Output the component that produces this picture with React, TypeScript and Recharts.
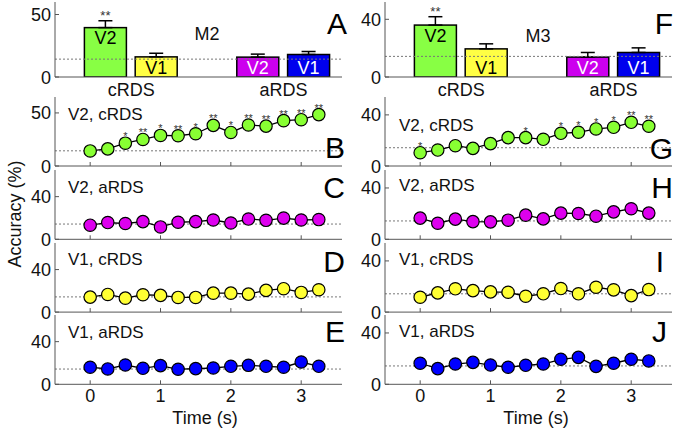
import React from 'react';
import { BarChart, Bar, ErrorBar, LineChart, Line, XAxis, YAxis, ReferenceLine } from 'recharts';

const FONT = '"Liberation Sans", Arial, sans-serif';
const AXIS = '#555';
const INK = '#111';
const CHANCE = 14.3;

// time course x values (s)
const TIME = [0, 0.25, 0.5, 0.75, 1, 1.25, 1.5, 1.75, 2, 2.25, 2.5, 2.75, 3, 3.25];
const TIME_TICKS = [0, 1, 2, 3];

// bar panels
const GROUPS = ['cRDS', 'aRDS'];
const AREAS = ['V2', 'V1', 'V2', 'V1'];
const BAR_COLORS = ['#88ff44', '#ffff44', '#cc00ee', '#0000ee'];
const BAR_TEXT = ['#000', '#000', '#fff', '#fff'];

const M2_BARS = [39.5, 16.1, 15.9, 18.0];
const M2_ERRS = [5.5, 2.9, 2.4, 2.4];
const M2_BAR_SIG = ['**', '', '', ''];
const M3_BARS = [36.0, 19.5, 13.8, 17.0];
const M3_ERRS = [5.8, 3.5, 3.2, 3.2];
const M3_BAR_SIG = ['**', '', '', ''];

// M2 time courses
const M2_V2_CRDS = [14.2, 16.1, 21.5, 25.0, 28.8, 28.5, 30.4, 38.3, 31.6, 38.6, 37.6, 42.7, 43.6, 48.4];
const M2_V2_CRDS_SIG = ['', '', '*', '**', '*', '**', '*', '**', '*', '**', '**', '**', '**', '**'];
const M2_V2_ARDS = [13.2, 15.7, 14.8, 16.6, 11.6, 16.0, 16.6, 18.1, 15.3, 19.0, 17.8, 19.9, 18.1, 18.5];
const M2_V1_CRDS = [14.1, 16.6, 13.1, 16.3, 15.7, 13.8, 13.8, 17.8, 17.8, 16.9, 20.4, 22.0, 18.5, 21.0];
const M2_V1_ARDS = [16.0, 14.4, 18.1, 15.0, 17.5, 14.1, 14.7, 15.3, 16.9, 17.8, 16.9, 16.0, 20.9, 16.9];

// M3 time courses
const M3_V2_CRDS = [10.4, 12.5, 15.9, 13.8, 17.5, 22.2, 22.2, 20.9, 25.6, 26.4, 29.0, 30.3, 34.2, 31.1];
const M3_V2_CRDS_SIG = ['*', '', '', '', '', '', '*', '', '*', '*', '*', '*', '**', '**'];
const M3_V2_ARDS = [16.5, 12.5, 15.7, 13.8, 13.6, 14.9, 18.8, 15.9, 20.4, 20.1, 18.0, 21.4, 23.8, 20.4];
const M3_V1_CRDS = [11.6, 15.0, 18.2, 16.8, 15.8, 15.5, 12.4, 14.3, 18.4, 14.3, 19.4, 17.4, 12.9, 17.6];
const M3_V1_ARDS = [16.4, 12.2, 15.8, 17.1, 15.0, 13.3, 14.8, 15.8, 19.5, 21.0, 14.0, 16.4, 19.5, 18.2];

const GREEN = '#88ff33';
const MAGENTA = '#dd00ee';
const YELLOW = '#ffff33';
const BLUE = '#0000ff';

const COLS = [
  { left: 0, width: 345, right: 3 },
  { left: 330, width: 346, right: 4 },
];
const ROWS = [
  { top: 97, bottom: 166 },
  { top: 170, bottom: 239.3 },
  { top: 242.5, bottom: 311.6 },
  { top: 315, bottom: 384.3 },
];

const YTick = (props: any) => {
  const { x, y, payload } = props;
  return (
    <g>
      <line x1={x} x2={x + 4} y1={y} y2={y} stroke={AXIS} />
      <text x={x - 4} y={y + 6.5} textAnchor="end" fontSize={18} fill={INK} fontFamily={FONT}>
        {payload.value}
      </text>
    </g>
  );
};

const makeTimeTick = (showLabel: boolean) => (props: any) => {
  const { x, y, payload } = props;
  return (
    <g>
      <line x1={x} x2={x} y1={y} y2={y - 4} stroke={AXIS} />
      {showLabel && (
        <text x={x} y={y + 18} textAnchor="middle" fontSize={18} fill={INK} fontFamily={FONT}>
          {payload.value}
        </text>
      )}
    </g>
  );
};

const GroupTick = (props: any) => {
  const { x, y, index } = props;
  return (
    <text x={x} y={y + 19} textAnchor="middle" fontSize={18} fill={INK} fontFamily={FONT}>
      {GROUPS[index]}
    </text>
  );
};

const BarShape = (props: any) => {
  const { x, y, width, height, payload, index } = props;
  const ppu = height / payload.v;
  const cy = height > 35 ? y + 10 : y + height - 10;
  const errTop = y - payload.err[1] * ppu;
  return (
    <g>
      <rect x={x} y={y} width={width} height={height} fill={BAR_COLORS[index]} stroke="#000" strokeWidth={1.5} />
      <text x={x + width / 2} y={cy + 6.5} textAnchor="middle" fontSize={18} fill={BAR_TEXT[index]} fontFamily={FONT}>
        {payload.area}
      </text>
      {payload.sig ? (
        <text x={x + width / 2} y={errTop - 1} textAnchor="middle" fontSize={13} fill="#333" fontFamily={FONT}>
          {payload.sig}
        </text>
      ) : null}
    </g>
  );
};

function BarPanel({ values, errs, sig, ymax, yticks, col }: any) {
  const data = values.map((v: number, i: number) => ({
    pos: Math.floor(i / 2) * 3 + (i % 2) + 1,
    v,
    err: [0, errs[i]],
    area: AREAS[i],
    sig: sig[i],
  }));
  const c = COLS[col];
  return (
    <div style={{ position: 'absolute', left: c.left, top: 0 }}>
      <BarChart width={c.width} height={107} data={data} margin={{ top: 2, right: c.right, bottom: 0, left: 0 }}>
        <XAxis
          type="number"
          dataKey="pos"
          domain={[0, 5.65]}
          ticks={GROUPS.map((_, g) => g * 3 + 1.5)}
          interval={0}
          height={30}
          tickSize={0}
          tickMargin={0}
          tickLine={false}
          axisLine={{ stroke: AXIS }}
          tick={GroupTick}
          allowDataOverflow
        />
        <YAxis
          type="number"
          domain={[0, ymax]}
          ticks={yticks}
          interval={0}
          width={55}
          tickSize={0}
          tickMargin={0}
          tickLine={false}
          axisLine={{ stroke: AXIS }}
          tick={YTick}
          allowDataOverflow
        />
        <Bar dataKey="v" barSize={42} shape={BarShape} isAnimationActive={false}>
          <ErrorBar dataKey="err" width={7} stroke="#000" strokeWidth={1.5} direction="y" />
        </Bar>
        <ReferenceLine y={CHANCE} stroke="#777" strokeDasharray="2 2" />
      </BarChart>
    </div>
  );
}

const makeDot = (color: string) => (props: any) => {
  const { cx, cy, payload, index } = props;
  return (
    <g key={`dot-${index}`}>
      <circle cx={cx} cy={cy} r={6.2} fill={color} stroke="#000" strokeWidth={1.2} />
      {payload.sig ? (
        <text x={cx} y={cy - 3} textAnchor="middle" fontSize={11} fill="#333" fontFamily={FONT}>
          {payload.sig}
        </text>
      ) : null}
    </g>
  );
};

function LinePanel({ values, sig, color, ymax, yticks, col, row, showX }: any) {
  const data = TIME.map((t, i) => ({ t, v: values[i], sig: sig ? sig[i] : '' }));
  const c = COLS[col];
  const r = ROWS[row];
  const pad = 20;
  return (
    <div style={{ position: 'absolute', left: c.left, top: r.top - pad }}>
      <LineChart
        width={c.width}
        height={pad + (r.bottom - r.top) + 30}
        data={data}
        margin={{ top: pad, right: c.right, bottom: 0, left: 0 }}
      >
        <XAxis
          type="number"
          dataKey="t"
          domain={[-0.5, 3.58]}
          ticks={TIME_TICKS}
          interval={0}
          height={30}
          tickSize={0}
          tickMargin={0}
          tickLine={false}
          axisLine={{ stroke: AXIS }}
          tick={makeTimeTick(showX)}
          allowDataOverflow
        />
        <YAxis
          type="number"
          domain={[0, ymax]}
          ticks={yticks}
          interval={0}
          width={55}
          tickSize={0}
          tickMargin={0}
          tickLine={false}
          axisLine={{ stroke: AXIS }}
          tick={YTick}
          allowDataOverflow
        />
        <ReferenceLine y={CHANCE} stroke="#777" strokeDasharray="2 2" />
        <Line
          dataKey="v"
          stroke="#000"
          strokeWidth={1.3}
          dot={makeDot(color)}
          activeDot={false}
          isAnimationActive={false}
        />
      </LineChart>
    </div>
  );
}

const LETTERS = [
  { t: 'A', x: 347, y: 33.5 },
  { t: 'B', x: 345, y: 158 },
  { t: 'C', x: 345, y: 198 },
  { t: 'D', x: 345, y: 272 },
  { t: 'E', x: 345, y: 342 },
  { t: 'F', x: 673, y: 33.5 },
  { t: 'G', x: 673, y: 159 },
  { t: 'H', x: 673, y: 198 },
  { t: 'I', x: 664, y: 272 },
  { t: 'J', x: 667, y: 342 },
];

const TITLES = [
  { t: 'V2, cRDS', x: 68, y: 120 },
  { t: 'V2, aRDS', x: 68, y: 193 },
  { t: 'V1, cRDS', x: 68, y: 265 },
  { t: 'V1, aRDS', x: 68, y: 338 },
  { t: 'V2, cRDS', x: 399, y: 131 },
  { t: 'V2, aRDS', x: 399, y: 191 },
  { t: 'V1, cRDS', x: 399, y: 265 },
  { t: 'V1, aRDS', x: 399, y: 337 },
];

export default function App() {
  return (
    <div
      style={{
        position: 'absolute',
        left: 0,
        top: 0,
        width: 676,
        height: 435,
        background: '#fff',
        overflow: 'hidden',
        fontFamily: FONT,
      }}
    >
      <BarPanel values={M2_BARS} errs={M2_ERRS} sig={M2_BAR_SIG} ymax={60} yticks={[0, 50]} col={0} />
      <BarPanel values={M3_BARS} errs={M3_ERRS} sig={M3_BAR_SIG} ymax={52} yticks={[0, 40]} col={1} />

      <LinePanel values={M2_V2_CRDS} sig={M2_V2_CRDS_SIG} color={GREEN} ymax={65} yticks={[0, 50]} col={0} row={0} />
      <LinePanel values={M2_V2_ARDS} color={MAGENTA} ymax={65} yticks={[0, 40]} col={0} row={1} />
      <LinePanel values={M2_V1_CRDS} color={YELLOW} ymax={65} yticks={[0, 40]} col={0} row={2} />
      <LinePanel values={M2_V1_ARDS} color={BLUE} ymax={65} yticks={[0, 40]} col={0} row={3} showX />

      <LinePanel values={M3_V2_CRDS} sig={M3_V2_CRDS_SIG} color={GREEN} ymax={54} yticks={[0, 40]} col={1} row={0} />
      <LinePanel values={M3_V2_ARDS} color={MAGENTA} ymax={54} yticks={[0, 40]} col={1} row={1} />
      <LinePanel values={M3_V1_CRDS} color={YELLOW} ymax={54} yticks={[0, 40]} col={1} row={2} />
      <LinePanel values={M3_V1_ARDS} color={BLUE} ymax={54} yticks={[0, 40]} col={1} row={3} showX />

      <svg width={676} height={435} style={{ position: 'absolute', left: 0, top: 0, pointerEvents: 'none' }}>
        <text x={207} y={40} textAnchor="middle" fontSize={18} fill={INK} fontFamily={FONT}>M2</text>
        <text x={538} y={41.5} textAnchor="middle" fontSize={18} fill={INK} fontFamily={FONT}>M3</text>
        {TITLES.map((d, i) => (
          <text key={`t${i}`} x={d.x} y={d.y} fontSize={17} fill={INK} fontFamily={FONT}>{d.t}</text>
        ))}
        {LETTERS.map((d) => (
          <text key={d.t} x={d.x} y={d.y} textAnchor="end" fontSize={30} fill="#000" fontFamily={FONT}>{d.t}</text>
        ))}
        <text x={205} y={424} textAnchor="middle" fontSize={18} fill={INK} fontFamily={FONT}>Time (s)</text>
        <text x={536} y={424} textAnchor="middle" fontSize={18} fill={INK} fontFamily={FONT}>Time (s)</text>
        <text x={21} y={214} textAnchor="middle" fontSize={18} fill={INK} fontFamily={FONT} transform="rotate(-90 21 214)">
          Accuracy (%)
        </text>
      </svg>
    </div>
  );
}
